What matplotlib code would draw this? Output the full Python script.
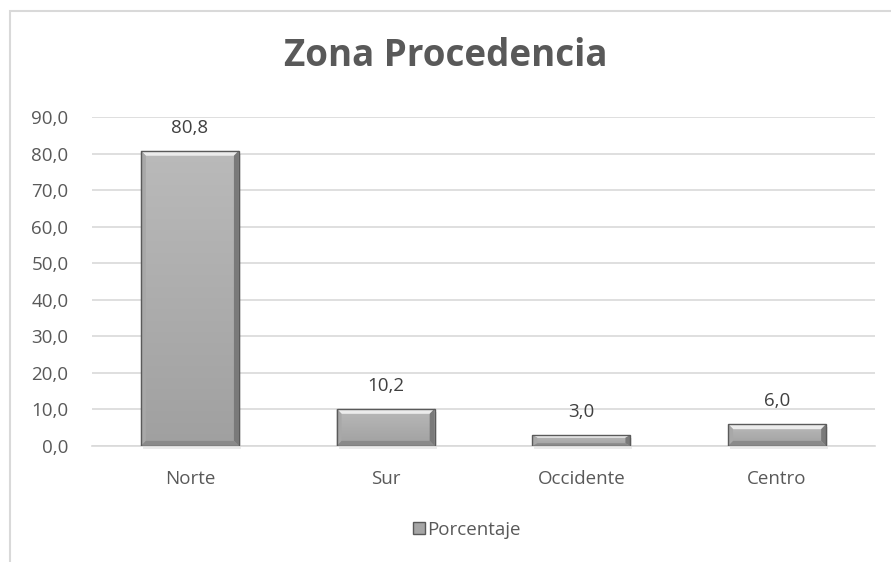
import numpy as np
import matplotlib
matplotlib.use("Agg")
from matplotlib import pyplot as plt
from matplotlib.patches import Rectangle, Polygon
from matplotlib.lines import Line2D

categorias = ["Norte", "Sur", "Occidente", "Centro"]
porcentaje = [80.8, 10.2, 3.0, 6.0]
ticks_y = [0, 10, 20, 30, 40, 50, 60, 70, 80, 90]

plt.rcParams['font.family'] = ['Open Sans', 'DejaVu Sans']
gris = "#595959"

fig = plt.figure(figsize=(8.91, 5.62), dpi=100)
W, H = 891, 562
ax = fig.add_axes([92 / W, (H - 446) / H, (875 - 92) / W, (446 - 117) / H])

# marco del grafico (solo se ve arriba y a la izquierda)
fig.patches.append(Rectangle((9.5 / W, -0.1), 1.2, (H - 10.5) / H + 0.1,
                             transform=fig.transFigure, fill=False,
                             edgecolor="#d9d9d9", lw=1.5))

x = np.arange(len(categorias))
ancho = 0.5
ax.set_xlim(-0.5, len(categorias) - 0.5)
ax.set_ylim(0, 90)

cmap = matplotlib.colors.LinearSegmentedColormap.from_list("g", ["#a0a0a0", "#bababa"])
grad = np.linspace(0, 1, 256).reshape(-1, 1)
for xi, v in zip(x, porcentaje):
    x0, x1 = xi - ancho / 2, xi + ancho / 2
    # sombra
    ax.add_patch(Rectangle((x0 + 0.01, -0.9), ancho, v, facecolor="#000000",
                           alpha=0.08, lw=0, zorder=2, clip_on=False))
    r = Rectangle((x0, 0), ancho, v, facecolor="none", edgecolor="#5a5a5a",
                  lw=1.0, zorder=4)
    ax.add_patch(r)
    im = ax.imshow(grad, extent=(x0, x1, 0, v), origin="lower", cmap=cmap,
                   aspect="auto", zorder=3)
    im.set_clip_path(r)
    # bisel
    dx = 0.025
    dy = min(1.4, v * 0.25)
    ax.add_patch(Polygon([(x0, v), (x1, v), (x1 - dx, v - dy), (x0 + dx, v - dy)],
                         closed=True, facecolor="#ececec", lw=0, zorder=3.5))
    ax.add_patch(Polygon([(x1, v), (x1, 0), (x1 - dx, dy), (x1 - dx, v - dy)],
                         closed=True, facecolor="#7a7a7a", lw=0, zorder=3.5))
    ax.add_patch(Polygon([(x0, v), (x0, 0), (x0 + dx, dy), (x0 + dx, v - dy)],
                         closed=True, facecolor="#a8a8a8", lw=0, zorder=3.5))
    ax.add_patch(Polygon([(x0, 0), (x1, 0), (x1 - dx, dy), (x0 + dx, dy)],
                         closed=True, facecolor="#8a8a8a", lw=0, zorder=3.5))
    ax.annotate(f"{v:.1f}".replace(".", ","), (xi, v), xytext=(0, 10),
                textcoords="offset points", ha="center", va="bottom",
                fontsize=13.5, color="#404040")

ax.set_yticks(ticks_y)
ax.set_yticklabels([f"{t:.1f}".replace(".", ",") for t in ticks_y])
ax.set_xticks(x)
ax.set_xticklabels(categorias)
ax.tick_params(axis="both", length=0, labelsize=13.5, colors=gris)
ax.tick_params(axis="x", pad=17)
ax.tick_params(axis="y", pad=17)
ax.grid(axis="y", color="#d9d9d9", lw=1.2, zorder=0)
ax.set_axisbelow(True)
for s in ["top", "right", "left"]:
    ax.spines[s].set_visible(False)
ax.spines["bottom"].set_color("#d9d9d9")
ax.spines["bottom"].set_linewidth(1.2)

fig.text(446 / W, 1 - 56 / H, "Zona Procedencia", ha="center", va="center",
         fontsize=26.5, fontweight="bold", color=gris)

handle = Line2D([], [], marker="s", markersize=9, linestyle="none",
                markerfacecolor="#a6a6a6", markeredgecolor="#595959")
fig.legend([handle], ["Porcentaje"], loc="center", bbox_to_anchor=(466 / W, 1 - 530 / H),
           frameon=False, fontsize=13.5, labelcolor=gris, handletextpad=0.05,
           handlelength=0.8)

fig.savefig("out.png", dpi=100)
